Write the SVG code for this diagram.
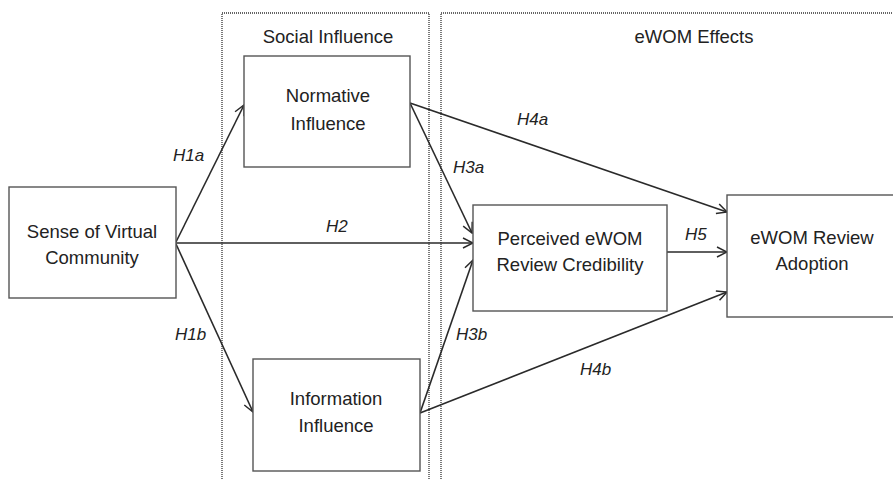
<svg xmlns="http://www.w3.org/2000/svg" width="893" height="479" viewBox="0 0 893 479">
<style>
.bg{fill:#fff}
.grp{fill:none;stroke:#333;stroke-width:1.3;stroke-dasharray:1 1}
.box{fill:#fff;stroke:#555;stroke-width:1.4}
.t{font-family:"Liberation Sans",Arial,sans-serif;font-size:18.5px;fill:#222;text-anchor:middle}
.h{font-family:"Liberation Sans",Arial,sans-serif;font-size:17px;fill:#222;font-style:italic}
.c{fill:none;stroke:#2a2a2a;stroke-width:1.6;marker-end:url(#arr)}
</style>
<defs>
<marker id="arr" viewBox="0 0 12 12" refX="11" refY="6" markerWidth="12" markerHeight="12" markerUnits="userSpaceOnUse" orient="auto">
<path d="M1,1 L11,6 L1,11" fill="none" stroke="#2a2a2a" stroke-width="1.5"/>
</marker>
</defs>
<rect class="bg" x="0" y="0" width="893" height="479"/>
<g id="social-influence-group">
<rect class="grp" x="222" y="13" width="207" height="480"/>
<text class="t" x="328" y="43">Social Influence</text>
</g>
<g id="ewom-effects-group">
<rect class="grp" x="441" y="13" width="470" height="480"/>
<text class="t" x="694" y="43">eWOM Effects</text>
</g>
<g id="connectors">
<line class="c" x1="176" y1="242" x2="244" y2="105"/>
<line class="c" x1="176" y1="243" x2="473" y2="243"/>
<line class="c" x1="176" y1="244" x2="253" y2="412"/>
<line class="c" x1="410" y1="103" x2="472" y2="233"/>
<line class="c" x1="410" y1="103" x2="727" y2="212"/>
<line class="c" x1="420" y1="413" x2="473" y2="260"/>
<line class="c" x1="420" y1="413" x2="727" y2="292"/>
<line class="c" x1="667" y1="252" x2="727" y2="252"/>
</g>
<g id="labels">
<text class="h" x="173" y="161">H1a</text>
<text class="h" x="326" y="232">H2</text>
<text class="h" x="175" y="340">H1b</text>
<text class="h" x="453" y="173">H3a</text>
<text class="h" x="517" y="125">H4a</text>
<text class="h" x="685" y="240">H5</text>
<text class="h" x="456" y="340">H3b</text>
<text class="h" x="580" y="375">H4b</text>
</g>
<g id="sense-of-virtual-community">
<rect class="box" x="9" y="187" width="167" height="111"/>
<text class="t" x="92" y="238">Sense of Virtual</text>
<text class="t" x="92" y="264">Community</text>
</g>
<g id="normative-influence">
<rect class="box" x="244" y="56" width="166" height="111"/>
<text class="t" x="328" y="102">Normative</text>
<text class="t" x="328" y="130">Influence</text>
</g>
<g id="information-influence">
<rect class="box" x="253" y="359" width="167" height="112"/>
<text class="t" x="336" y="405">Information</text>
<text class="t" x="336" y="432">Influence</text>
</g>
<g id="perceived-ewom-review-credibility">
<rect class="box" x="473" y="205" width="194" height="106"/>
<text class="t" x="570" y="245">Perceived eWOM</text>
<text class="t" x="570" y="271">Review Credibility</text>
</g>
<g id="ewom-review-adoption">
<rect class="box" x="727" y="195" width="180" height="122"/>
<text class="t" x="812" y="244">eWOM Review</text>
<text class="t" x="812" y="270">Adoption</text>
</g>
</svg>
